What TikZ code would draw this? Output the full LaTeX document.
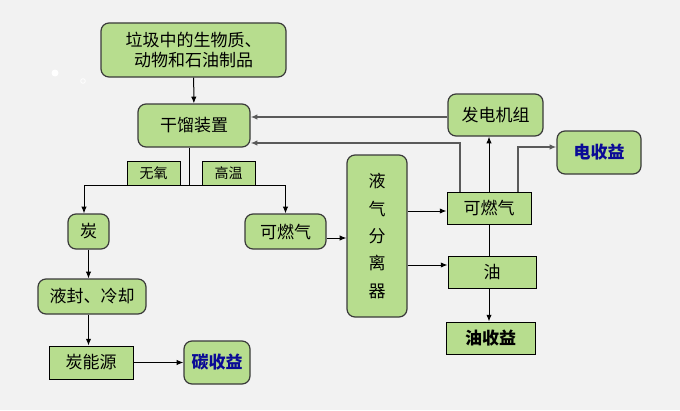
\documentclass[tikz,border=0pt]{standalone}
\usepackage{fontspec}
\setmainfont{Noto Sans CJK SC}
\usetikzlibrary{arrows.meta,calc}
\definecolor{bg}{HTML}{F2F2F2}
\definecolor{boxgreen}{HTML}{B7DD8E}
\definecolor{edgegray}{HTML}{3A3A3A}
\definecolor{linegray}{HTML}{5A5A5A}
\definecolor{darkblue}{HTML}{0A0A96}
\tikzset{
  rbox/.style={draw=edgegray, line width=0.9pt, fill=boxgreen, rounded corners=6pt, inner sep=0pt, font=\fontsize{12.75}{15}\selectfont},
  sbox/.style={draw=black, line width=0.75pt, fill=boxgreen, inner sep=0pt, font=\fontsize{12.75}{15}\selectfont},
  arr/.style={line width=0.75pt, -{Latex[length=5pt,width=4pt]}},
  ln/.style={line width=0.75pt},
  garr/.style={draw=linegray, line width=1pt, -{Latex[length=5pt,width=4pt]}},
}
\begin{document}
\begin{tikzpicture}[x=0.75pt,y=-0.75pt]
\fill[bg] (0,0) rectangle (680,410);
\useasboundingbox (0,0) rectangle (680,410);
% decorative dots
\fill[white] (55,73) circle (3.5);
\draw[white, line width=0.6pt] (83,81) circle (2.3);
% nodes
\node[rbox, minimum width=185*0.75pt, minimum height=54*0.75pt, align=center] (top) at (193.5,50) {垃圾中的生物质、\\动物和石油制品};
\node[rbox, minimum width=112*0.75pt, minimum height=43*0.75pt] (gl) at (194,125.5) {干馏装置};
\node[sbox, minimum width=53*0.75pt, minimum height=24*0.75pt, font=\fontsize{10.5}{12}\selectfont] (wy) at (153.5,173) {无氧};
\node[sbox, minimum width=53*0.75pt, minimum height=24*0.75pt, font=\fontsize{10.5}{12}\selectfont] (gw) at (228.5,173) {高温};
\node[rbox, minimum width=41*0.75pt, minimum height=35*0.75pt] (tan) at (88.5,231.5) {炭};
\node[rbox, minimum width=81*0.75pt, minimum height=35*0.75pt] (kr1) at (285.5,231.5) {可燃气};
\node[rbox, minimum width=108*0.75pt, minimum height=35*0.75pt] (yf) at (92,296.5) {液封、冷却};
\node[sbox, minimum width=84*0.75pt, minimum height=33*0.75pt] (tny) at (91,362.5) {炭能源};
\node[rbox, minimum width=66*0.75pt, minimum height=43*0.75pt, text=darkblue, font=\fontsize{12.75}{15}\selectfont\bfseries] (tsy) at (217,362.5) {碳收益};
\node[rbox, minimum width=60*0.75pt, minimum height=162*0.75pt, align=center, font=\fontsize{12.75}{20.5}\selectfont] (sep) at (377,236) {液\\气\\分\\离\\器};
\node[sbox, minimum width=84*0.75pt, minimum height=32*0.75pt] (kr2) at (489,208) {可燃气};
\node[sbox, minimum width=88*0.75pt, minimum height=32*0.75pt] (oil) at (492,272) {油};
\node[sbox, minimum width=89*0.75pt, minimum height=32*0.75pt, font=\fontsize{12.75}{15}\selectfont\bfseries] (oilsy) at (490.5,338) {油收益};
\node[rbox, minimum width=95*0.75pt, minimum height=42*0.75pt] (fd) at (495.5,115) {发电机组};
\node[rbox, minimum width=84*0.75pt, minimum height=43*0.75pt, text=darkblue, font=\fontsize{12.75}{15}\selectfont\bfseries] (dsy) at (599,152.5) {电收益};
% helper coordinates
\coordinate (split) at (189,185);
\coordinate (lft) at (84,185);
% connectors
\draw[arr] (top) -- (gl);
\draw[ln] (gl.south -| split) -- (split);
\draw[arr] (split) -- (lft) -- (lft |- tan.north);
\draw[arr] (split) -| (kr1.north);
\draw[arr] (tan.south) -- (tan.south |- yf.north);
\draw[arr] (tan.south |- yf.south) -- (tan.south |- tny.north);
\draw[arr] (tny.east) -- (tsy.west);
\draw[arr] (kr1.east |- 0,238) -- (sep.west |- 0,238);
\draw[arr] (sep.east |- 0,211) -- (kr2.west |- 0,211);
\draw[arr] (sep.east |- 0,265) -- (oil.west |- 0,265);
\draw[ln] (kr2.south) -- (kr2.south |- oil.north);
\draw[arr] (kr2.south |- oil.south) -- (kr2.south |- oilsy.north);
\draw[arr] (kr2.north) -- (kr2.north |- fd.south);
\draw[garr] (kr2.north -| 518,0) |- (dsy.west |- 0,147);
\draw[garr] (kr2.north -| 460,0) |- (gl.east |- 0,143);
\draw[garr] (fd.west |- 0,117) -- (gl.east |- 0,117);
\end{tikzpicture}
\end{document}
